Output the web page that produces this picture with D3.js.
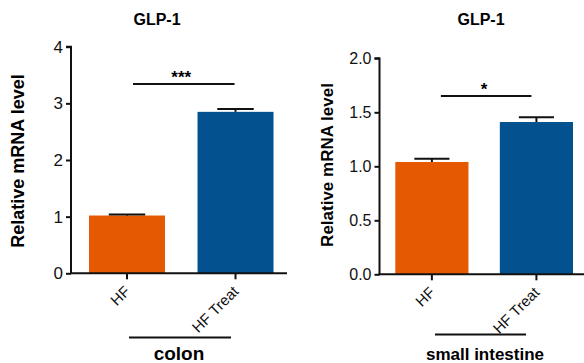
<!DOCTYPE html>
<html lang="en">
<head>
    <meta charset="UTF-8">
    <title>GLP-1 relative mRNA level</title>
    <script src="https://d3js.org/d3.v7.min.js"></script>
    <style>
        body {
            margin: 0;
            background: white;
            font-family: Arial, "Liberation Sans", sans-serif;
        }
        svg {
            display: block;
        }
    </style>
</head>
<body>
<svg width="584" height="363"></svg>
<script>
    // 数据
    const groups = ["HF", "HF Treat"];
    const colonMean = [1.02, 2.85];
    const colonErr = [0.02, 0.05];
    const intestineMean = [1.04, 1.41];
    const intestineErr = [0.03, 0.045];
    const colonTicks = [0, 1, 2, 3, 4];
    const intestineTicks = [0, 0.5, 1.0, 1.5, 2.0];
    const colors = ["#e55a00", "#03528f"];

    const svg = d3.select("svg");

    // 一个面板
    function drawPanel(opt) {
        const g = svg.append("g");
        const y = d3.scaleLinear().domain(opt.domain).range([opt.y0, opt.y1]);
        const x = d3.scaleBand().domain(groups).range(opt.barRange).paddingInner(0.3).paddingOuter(0);

        // 标题
        g.append("text")
            .attr("x", opt.titleX).attr("y", 25)
            .attr("text-anchor", "middle")
            .attr("font-size", opt.titleSize).attr("font-weight", "bold")
            .text("GLP-1");

        // 柱子
        g.selectAll(".bar")
            .data(opt.mean)
            .enter().append("rect")
            .attr("class", "bar")
            .attr("x", (d, i) => x(groups[i]))
            .attr("y", d => y(d))
            .attr("width", x.bandwidth())
            .attr("height", d => y(0) - y(d))
            .attr("fill", (d, i) => colors[i]);

        // 误差线（只画上半部分）
        const capW = x.bandwidth() * 0.48;
        opt.mean.forEach((m, i) => {
            const cx = x(groups[i]) + x.bandwidth() / 2;
            g.append("line")
                .attr("x1", cx).attr("x2", cx)
                .attr("y1", y(m)).attr("y2", y(m + opt.err[i]))
                .attr("stroke", "#111").attr("stroke-width", 2);
            g.append("line")
                .attr("x1", cx - capW / 2).attr("x2", cx + capW / 2)
                .attr("y1", y(m + opt.err[i])).attr("y2", y(m + opt.err[i]))
                .attr("stroke", "#111").attr("stroke-width", 2);
        });

        // y轴
        const yAxis = g.append("g")
            .attr("transform", `translate(${opt.axisX},0)`)
            .call(d3.axisLeft(y).tickValues(opt.ticks).tickFormat(opt.fmt).tickSize(5).tickPadding(3));
        yAxis.select(".domain").attr("stroke", "#111").attr("stroke-width", 2)
            .attr("d", `M-5,${y(opt.domain[1])}H0V${y(0)}`);
        yAxis.selectAll(".tick line").attr("stroke", "#111").attr("stroke-width", 2);
        yAxis.selectAll(".tick text")
            .attr("font-size", opt.tickSize)
            .attr("font-family", "Arial, 'Liberation Sans', sans-serif")
            .attr("fill", "#111");

        // x轴
        g.append("line")
            .attr("x1", opt.axisX - 1).attr("x2", opt.xAxisEnd)
            .attr("y1", y(0)).attr("y2", y(0))
            .attr("stroke", "#111").attr("stroke-width", 2);
        groups.forEach((k, i) => {
            const cx = x(k) + x.bandwidth() / 2;
            g.append("line")
                .attr("x1", cx).attr("x2", cx)
                .attr("y1", y(0)).attr("y2", y(0) + 6)
                .attr("stroke", "#111").attr("stroke-width", 2);
            g.append("text")
                .attr("transform", `translate(${cx + 4},${y(0) + 19}) rotate(-45)`)
                .attr("text-anchor", "end")
                .attr("font-size", 15)
                .attr("fill", "#111")
                .text(k);
        });

        // y轴标题
        g.append("text")
            .attr("transform", `translate(${opt.labelX},${opt.labelY}) rotate(-90)`)
            .attr("text-anchor", "middle")
            .attr("font-size", opt.labelSize).attr("font-weight", "bold")
            .text("Relative mRNA level");

        // 显著性标记
        const c0 = x(groups[0]) + x.bandwidth() / 2;
        const c1 = x(groups[1]) + x.bandwidth() / 2;
        g.append("line")
            .attr("x1", c0 + opt.sigInset[0]).attr("x2", c1 - opt.sigInset[1])
            .attr("y1", opt.sigY).attr("y2", opt.sigY)
            .attr("stroke", "#111").attr("stroke-width", 2);
        g.append("text")
            .attr("x", (c0 + c1) / 2).attr("y", opt.sigY - 1)
            .attr("text-anchor", "middle")
            .attr("font-size", 17).attr("font-weight", "bold")
            .text(opt.stars);

        // 组织名称
        g.append("line")
            .attr("x1", opt.tissueLine[0]).attr("x2", opt.tissueLine[1])
            .attr("y1", opt.tissueY).attr("y2", opt.tissueY)
            .attr("stroke", "#111").attr("stroke-width", 2);
        g.append("text")
            .attr("x", opt.tissueX).attr("y", 360)
            .attr("text-anchor", "middle")
            .attr("font-size", opt.tissueSize).attr("font-weight", "bold")
            .text(opt.tissue);
    }

    drawPanel({
        domain: [0, 4], y0: 273.3, y1: 46.7,
        barRange: [89, 273.5],
        mean: colonMean, err: colonErr,
        ticks: colonTicks, fmt: d3.format("d"),
        axisX: 71, xAxisEnd: 287,
        titleX: 157, titleSize: 16,
        tickSize: 17,
        labelX: 24, labelY: 161, labelSize: 18,
        sigY: 84, sigInset: [6, 1], stars: "***",
        tissue: "colon", tissueLine: [129, 231], tissueY: 337.5, tissueSize: 19, tissueX: 179
    });

    drawPanel({
        domain: [0, 2], y0: 274.3, y1: 58.3,
        barRange: [395.3, 573],
        mean: intestineMean, err: intestineErr,
        ticks: intestineTicks, fmt: d3.format(".1f"),
        axisX: 379.5, xAxisEnd: 584,
        titleX: 481, titleSize: 16,
        tickSize: 16,
        labelX: 333, labelY: 165, labelSize: 17,
        sigY: 96, sigInset: [9, 5], stars: "*",
        tissue: "small intestine", tissueLine: [435, 526], tissueY: 334.5, tissueSize: 17, tissueX: 485
    });
</script>
</body>
</html>
